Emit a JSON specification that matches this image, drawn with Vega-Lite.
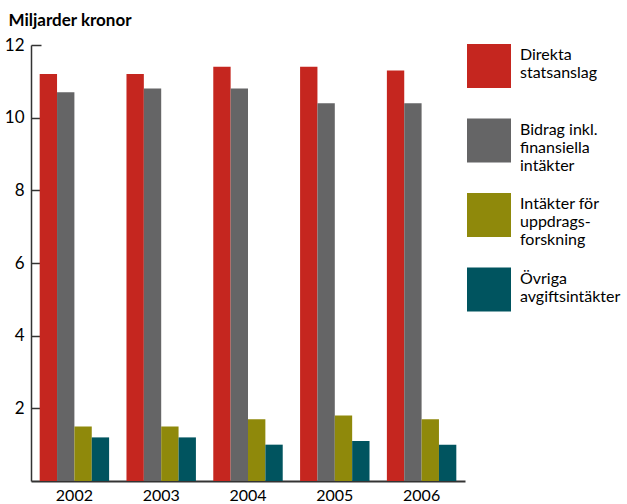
{
  "$schema": "https://vega.github.io/schema/vega-lite/v6.json",
  "autosize": "none",
  "width": 434,
  "height": 436,
  "padding": {"left": 31, "top": 45, "right": 162, "bottom": 23},
  "config": {
    "font": "Lato",
    "view": {"stroke": null},
    "axis": {"labelFont": "Lato", "titleFont": "Lato"}
  },
  "data": {
    "values": [
      {"year": "2002", "kategori": "Direkta|statsanslag", "varde": 11.2},
      {"year": "2002", "kategori": "Bidrag inkl.|finansiella|intäkter", "varde": 10.7},
      {"year": "2002", "kategori": "Intäkter för|uppdrags-|forskning", "varde": 1.5},
      {"year": "2002", "kategori": "Övriga|avgiftsintäkter", "varde": 1.2},
      {"year": "2003", "kategori": "Direkta|statsanslag", "varde": 11.2},
      {"year": "2003", "kategori": "Bidrag inkl.|finansiella|intäkter", "varde": 10.8},
      {"year": "2003", "kategori": "Intäkter för|uppdrags-|forskning", "varde": 1.5},
      {"year": "2003", "kategori": "Övriga|avgiftsintäkter", "varde": 1.2},
      {"year": "2004", "kategori": "Direkta|statsanslag", "varde": 11.4},
      {"year": "2004", "kategori": "Bidrag inkl.|finansiella|intäkter", "varde": 10.8},
      {"year": "2004", "kategori": "Intäkter för|uppdrags-|forskning", "varde": 1.7},
      {"year": "2004", "kategori": "Övriga|avgiftsintäkter", "varde": 1.0},
      {"year": "2005", "kategori": "Direkta|statsanslag", "varde": 11.4},
      {"year": "2005", "kategori": "Bidrag inkl.|finansiella|intäkter", "varde": 10.4},
      {"year": "2005", "kategori": "Intäkter för|uppdrags-|forskning", "varde": 1.8},
      {"year": "2005", "kategori": "Övriga|avgiftsintäkter", "varde": 1.1},
      {"year": "2006", "kategori": "Direkta|statsanslag", "varde": 11.3},
      {"year": "2006", "kategori": "Bidrag inkl.|finansiella|intäkter", "varde": 10.4},
      {"year": "2006", "kategori": "Intäkter för|uppdrags-|forskning", "varde": 1.7},
      {"year": "2006", "kategori": "Övriga|avgiftsintäkter", "varde": 1.0}
    ]
  },
  "mark": {"type": "bar"},
  "encoding": {
    "x": {
      "field": "year",
      "type": "nominal",
      "scale": {"paddingInner": 0.2, "paddingOuter": 0.1},
      "axis": {
        "title": null,
        "labelAngle": 0,
        "ticks": false,
        "labelFontSize": 16,
        "labelColor": "#000",
        "labelPadding": 6,
        "domainColor": "#333",
        "domainWidth": 2
      }
    },
    "xOffset": {
      "field": "kategori",
      "type": "nominal",
      "sort": ["Direkta|statsanslag", "Bidrag inkl.|finansiella|intäkter", "Intäkter för|uppdrags-|forskning", "Övriga|avgiftsintäkter"],
      "scale": {"paddingInner": 0, "paddingOuter": 0}
    },
    "y": {
      "field": "varde",
      "type": "quantitative",
      "scale": {"domain": [0, 12], "nice": false},
      "axis": {
        "title": "Miljarder kronor",
        "titleAngle": 0,
        "titleAlign": "left",
        "titleBaseline": "alphabetic",
        "titleX": -23,
        "titleY": -20,
        "titleFontSize": 17,
        "titleFontWeight": "bold",
        "titleColor": "#000",
        "values": [2, 4, 6, 8, 10, 12],
        "grid": false,
        "tickSize": -10,
        "tickColor": "#333",
        "tickWidth": 1.5,
        "domainColor": "#333",
        "domainWidth": 1.5,
        "labelFontSize": 17,
        "labelColor": "#000",
        "labelPadding": 17
      }
    },
    "color": {
      "field": "kategori",
      "type": "nominal",
      "sort": ["Direkta|statsanslag", "Bidrag inkl.|finansiella|intäkter", "Intäkter för|uppdrags-|forskning", "Övriga|avgiftsintäkter"],
      "scale": {"range": ["#C5261F", "#656566", "#8F890B", "#00545F"]},
      "legend": {
        "title": null,
        "orient": "none",
        "legendX": 436,
        "legendY": -1,
        "symbolType": "square",
        "symbolSize": 1936,
        "symbolStrokeWidth": 0,
        "symbolOpacity": 1,
        "labelFontSize": 16,
        "labelColor": "#000",
        "labelLimit": 200,
        "labelOffset": 9,
        "labelBaseline": "top",
        "labelExpr": "split(datum.label, '|')",
        "gridAlign": "all",
        "rowPadding": 19.5,
        "encode": {"labels": {"update": {"dy": {"value": -19}}}}
      }
    }
  }
}
